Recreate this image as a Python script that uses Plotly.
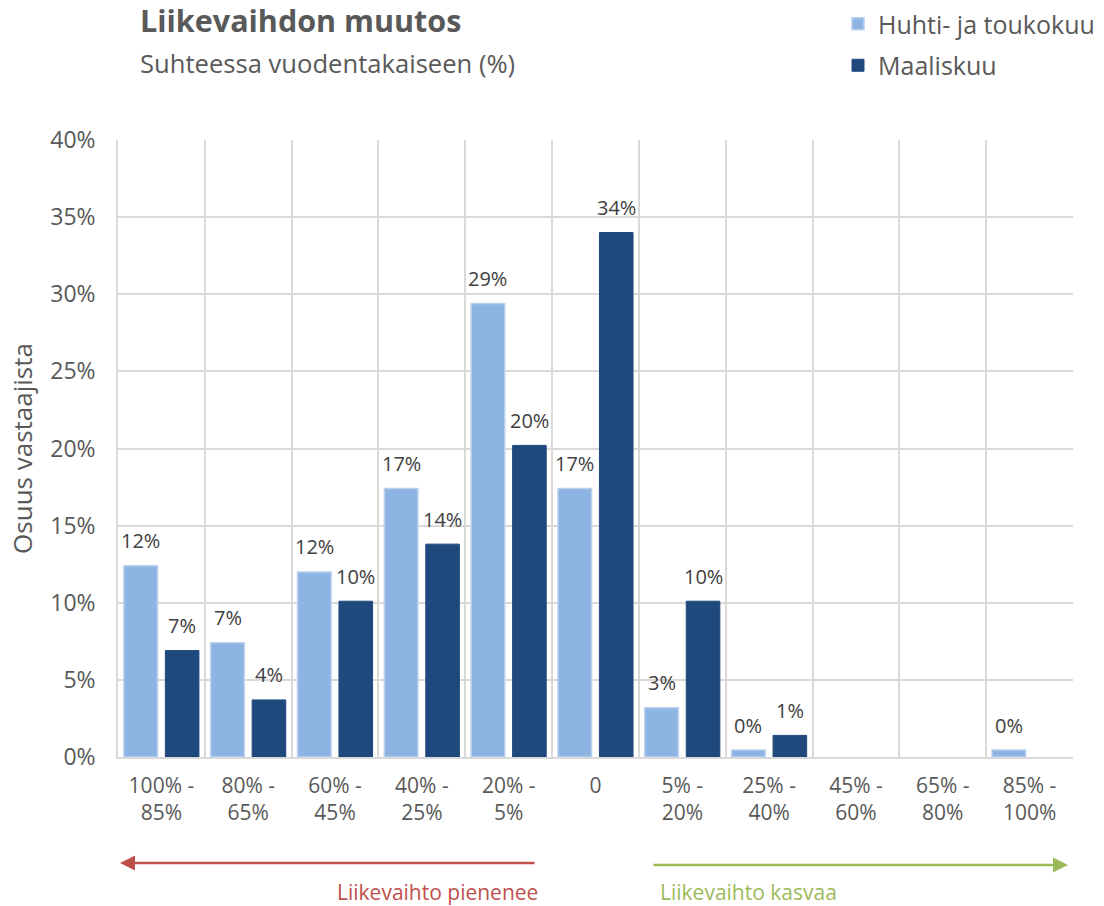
import plotly.graph_objects as go

categories = ["100% -<br>85%", "80% -<br>65%", "60% -<br>45%", "40% -<br>25%", "20% -<br>5%",
              "0", "5% -<br>20%", "25% -<br>40%", "45% -<br>60%", "65% -<br>80%", "85% -<br>100%"]
huhti_touko = [0.124, 0.074, 0.120, 0.174, 0.294, 0.174, 0.032, 0.0045, None, None, 0.0045]
maalis = [0.069, 0.037, 0.101, 0.138, 0.202, 0.340, 0.101, 0.014, None, None, None]

FONT = "Open Sans"
GREY = "#595959"
W, H = 1104, 906
L, R, T, B = 118, 31, 140, 149
PW, PH = W - L - R, H - T - B


def px(xp):
    return (xp - L) / PW


def py(yp):
    return (H - B - yp) / PH


fig = go.Figure()
fig.add_trace(go.Bar(
    x=categories, y=huhti_touko, name="Huhti- ja toukokuu", legendgroup="a",
    marker=dict(color="#8EB4E3", line=dict(color="#B9D0EE", width=1.5)),
))
fig.add_trace(go.Bar(
    x=categories, y=maalis, name="Maaliskuu", legendgroup="b",
    marker=dict(color="#1F497D", line=dict(color="#1F497D", width=1)),
))

annotations = []
# value labels above bars, placed through the axes (category index positions)
for vals, shift in ((huhti_touko, -20.7), (maalis, 20.7)):
    for i, v in enumerate(vals):
        if v is None:
            continue
        annotations.append(dict(
            x=i, y=v, xref="x", yref="y", text=f"{v:.0%}", showarrow=False,
            xshift=shift, yshift=25, yanchor="middle", xanchor="center",
            font=dict(size=20, color="#404040", family=FONT)))

annotations += [
    dict(text="<b>Liikevaihdon muutos</b>", xref="paper", yref="paper",
         x=px(138), y=py(20), xanchor="left", yanchor="middle",
         showarrow=False, font=dict(size=30.5, color=GREY, family=FONT)),
    dict(text="Suhteessa vuodentakaiseen (%)", xref="paper", yref="paper",
         x=px(138), y=py(64), xanchor="left", yanchor="middle",
         showarrow=False, font=dict(size=25.6, color=GREY, family=FONT)),
    # red arrow (pointing left)
    dict(text="", xref="paper", yref="paper", x=px(120), y=py(863),
         ax=416, ay=0, axref="pixel", ayref="pixel", showarrow=True,
         arrowhead=2, arrowsize=1.2, arrowwidth=2.5, arrowcolor="#C0504D"),
    dict(text="Liikevaihto pienenee", xref="paper", yref="paper",
         x=px(540), y=py(892), xanchor="right", yanchor="middle",
         showarrow=False, font=dict(size=21, color="#C0504D", family=FONT)),
    # green arrow (pointing right)
    dict(text="", xref="paper", yref="paper", x=px(1068), y=py(865),
         ax=-416, ay=0, axref="pixel", ayref="pixel", showarrow=True,
         arrowhead=2, arrowsize=1.2, arrowwidth=2.5, arrowcolor="#9BBB59"),
    dict(text="Liikevaihto kasvaa", xref="paper", yref="paper",
         x=px(658), y=py(892), xanchor="left", yanchor="middle",
         showarrow=False, font=dict(size=21, color="#9BBB59", family=FONT)),
]

fig.update_layout(
    width=W, height=H,
    margin=dict(l=L, r=R, t=T, b=B, autoexpand=False),
    paper_bgcolor="white", plot_bgcolor="white",
    barmode="group", bargap=0.045, bargroupgap=0.19,
    font=dict(family=FONT, color=GREY),
    showlegend=True,
    legend=dict(xref="container", yref="container", x=838 / W, y=1 - 1 / H,
                xanchor="left", yanchor="top",
                font=dict(size=25, color=GREY, family=FONT), tracegroupgap=6,
                itemwidth=30, bgcolor="rgba(0,0,0,0)"),
    annotations=annotations,
    xaxis=dict(type="category", tickson="boundaries", showgrid=True, gridcolor="#D9D9D9",
               gridwidth=1.5, showline=True, linecolor="#D9D9D9", linewidth=1.5,
               ticks="", ticklabelstandoff=9, tickfont=dict(size=21, color=GREY, family=FONT)),
    yaxis=dict(range=[0, 0.4], dtick=0.05, tickformat=".0%", showgrid=True,
               gridcolor="#D9D9D9", gridwidth=1.5, showline=True, linecolor="#D9D9D9",
               linewidth=1.5, zeroline=False, ticks="", ticklabelstandoff=16,
               tickfont=dict(size=23, color=GREY, family=FONT),
               title=dict(text="Osuus vastaajista", standoff=10,
                          font=dict(size=26, color=GREY, family=FONT))),
)

fig.write_html("out.html", post_script="document.body.style.margin='0';",
               config={"displayModeBar": False})
